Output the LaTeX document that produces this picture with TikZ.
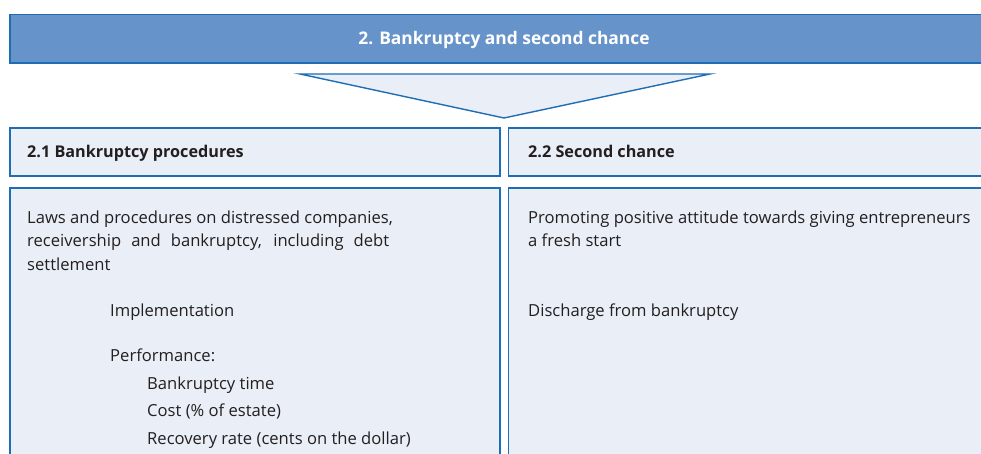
\documentclass[tikz,border=0pt]{standalone}
\usepackage{fontspec}
\setmainfont{Open Sans}
\definecolor{edge}{HTML}{1F6DB3}
\definecolor{banner}{HTML}{6693CA}
\definecolor{pale}{HTML}{E9EEF7}
\definecolor{ink}{HTML}{231F20}
\begin{document}
\begin{tikzpicture}[x=1pt,y=-1pt,
  panel/.style={draw=edge,fill=pale,line width=1.4pt},
  txt/.style={anchor=base west,inner sep=0pt,text=ink,font=\fontsize{16.6}{20}\selectfont},
  head/.style={anchor=base west,inner sep=0pt,text=ink,font=\fontsize{16.2}{19}\selectfont\bfseries}]
\useasboundingbox (0,0) rectangle (981,454);
\clip (0,0) rectangle (981,454);
% banner
\draw[draw=edge,fill=banner,line width=1.4pt] (10,14.5) rectangle (1000,63);
\node[inner sep=0pt,anchor=base,text=white,font=\fontsize{17.4}{20}\selectfont\bfseries] (title) at (504,45) {2. Bankruptcy and second chance};
% triangle
\draw[panel] (300,74) coordinate (tl) -- (710,74) coordinate (tr) -- (504,118) coordinate (apex) -- cycle;
% headers
\draw[panel] (10,128) rectangle (500,176);
\draw[panel] (508.5,128) rectangle (1000,176);
\node[head] (h1) at (27,158) {2.1 Bankruptcy procedures};
\node[head] (h2) at (528,158) {2.2 Second chance};
% bodies
\draw[panel] (10,188) rectangle (500,480);
\draw[panel] (508.5,188) rectangle (1000,480);
\node[txt] (l1) at (27,223.3) {Laws and procedures on distressed companies,};
\node[txt] (l2) at (27,246.7) {\makebox[362pt][s]{receivership and bankruptcy, including debt}};
\node[txt] (l3) at (27,270) {settlement};
\node[txt] (l4) at (110,316) {Implementation};
\node[txt] (l5) at (110,361) {Performance:};
\node[txt] (l6) at (147,389) {Bankruptcy time};
\node[txt] (l7) at (147,416.5) {Cost (\% of estate)};
\node[txt] (l8) at (147,444.5) {Recovery rate (cents on the dollar)};
\node[txt] (r1) at (528,223.3) {Promoting positive attitude towards giving entrepreneurs};
\node[txt] (r2) at (528,246.7) {a fresh start};
\node[txt] (r3) at (528,316) {Discharge from bankruptcy};
\end{tikzpicture}
\end{document}
